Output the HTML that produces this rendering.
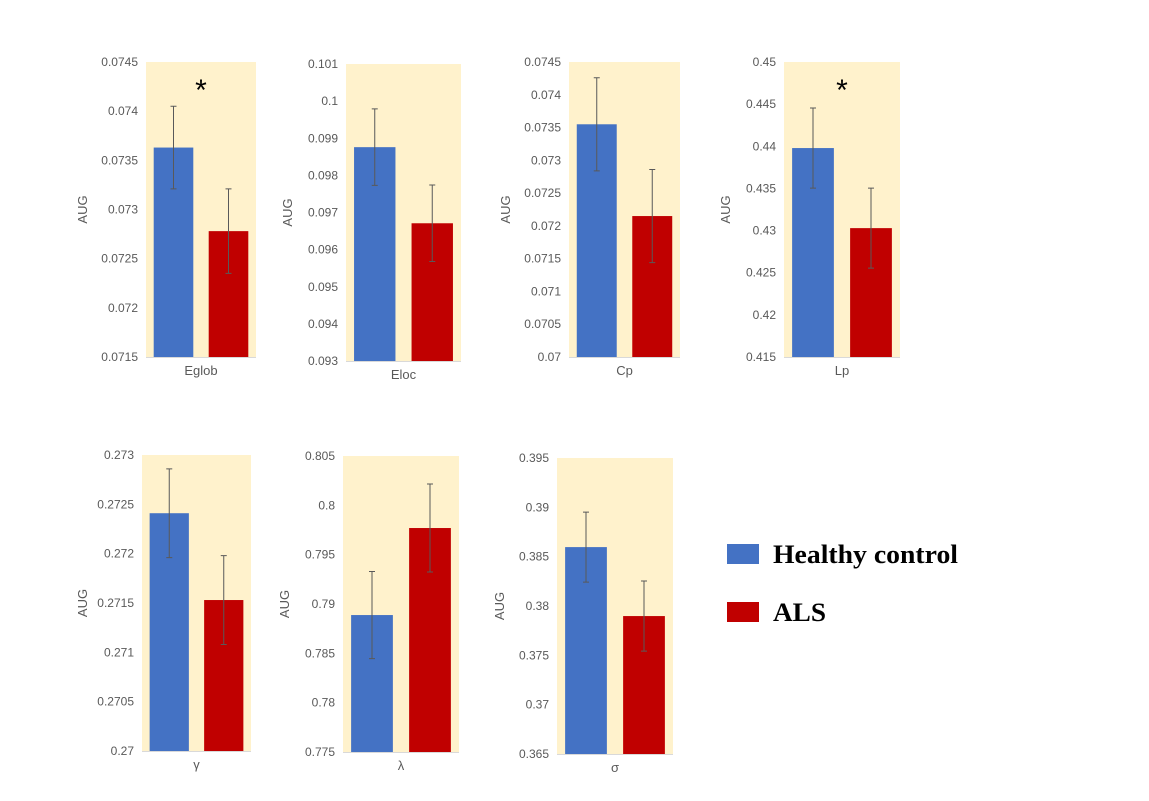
<!DOCTYPE html>
<html><head><meta charset="utf-8"><style>
body{margin:0;background:#fff;}
svg{display:block;font-family:"Liberation Sans","DejaVu Sans",sans-serif;}
</style></head><body>
<svg id="c" width="1149" height="801">
<g id="legend">
<rect x="727" y="544" width="32" height="20" fill="#4472C4"/>
<text x="773" y="563" font-family="Liberation Serif,serif" font-weight="bold" font-size="26" textLength="185" lengthAdjust="spacingAndGlyphs" fill="#000">Healthy control</text>
<rect x="727" y="602" width="32" height="20" fill="#C00000"/>
<text x="773" y="621" font-family="Liberation Serif,serif" font-weight="bold" font-size="26" textLength="53" lengthAdjust="spacingAndGlyphs" fill="#000">ALS</text>
</g>
</svg>
<script>
const metrics=["Eglob","Eloc","Cp","Lp","γ","λ","σ"];
const healthy=[0.07363,0.09876,0.07355,0.43979,0.27241,0.78888,0.38597];
const healthyErr=[0.00042,0.00103,0.00071,0.00475,0.00045,0.00441,0.00355];
const als=[0.07278,0.09671,0.07215,0.43029,0.27153,0.79770,0.37898];
const alsErr=[0.00043,0.00103,0.00071,0.00475,0.00045,0.00446,0.00355];
const yMax=[0.0745,0.101,0.0745,0.45,0.273,0.805,0.395];
const yMin=[0.0715,0.093,0.07,0.415,0.27,0.775,0.365];
const yStep=[0.0005,0.001,0.0005,0.005,0.0005,0.005,0.005];
const significant=[true,false,false,true,false,false,false];
const layout=[
 {x0:146,x1:256,y0:62,y1:357,ax:87},{x0:346,x1:461,y0:64,y1:361,ax:292},{x0:569,x1:680,y0:62,y1:357,ax:510},{x0:784,x1:900,y0:62,y1:357,ax:730},
 {x0:142,x1:251,y0:455,y1:751,ax:87},{x0:343,x1:459,y0:456,y1:752,ax:289},{x0:557,x1:673,y0:458,y1:754,ax:504}];
const NS="http://www.w3.org/2000/svg";
const svg=document.getElementById('c');
function mk(t,a,p){const e=document.createElementNS(NS,t);for(const k in a)e.setAttribute(k,a[k]);(p||svg).appendChild(e);return e;}
function fmt(v){return String(parseFloat(v.toFixed(6)));}
metrics.forEach((m,i)=>{
 const L=layout[i];
 const g=mk('g',{});
 
 
 const y=v=>L.y1-(v-yMin[i])/(yMax[i]-yMin[i])*(L.y1-L.y0);
 const bg=mk('rect',{x:L.x0,y:L.y0,width:L.x1-L.x0,height:L.y1-L.y0,fill:'#FFF2CC'},g);
 
 
 const n=Math.round((yMax[i]-yMin[i])/yStep[i]);
 for(let k=0;k<=n;k++){const v=yMin[i]+k*yStep[i];
  const t=mk('text',{x:L.x0-8,y:y(v)+4,'text-anchor':'end','font-size':12,fill:'#595959'},g);t.textContent=fmt(v);
  
  }
 const yl=mk('text',{transform:`translate(${L.ax},${(L.y0+L.y1)/2}) rotate(-90)`,'text-anchor':'middle','font-size':13,fill:'#595959'},g);
 yl.textContent='AUG';
 
 
 const w=L.x1-L.x0, bw=w*0.36;
 const bx=[L.x0+w*0.07,L.x0+w*0.57];
 [[healthy,healthyErr,'#4472C4'],[als,alsErr,'#C00000']].forEach(([d,e,c],j)=>{
  const top=y(d[i]);
  const b=mk('rect',{x:bx[j],y:top,width:bw,height:L.y1-top,fill:c},g);
  
  
  const cx=bx[j]+bw/2,hi=y(d[i]+e[i]),lo=y(d[i]-e[i]);
  const eb=mk('path',{d:`M${cx},${hi}V${lo}M${cx-3},${hi}H${cx+3}M${cx-3},${lo}H${cx+3}`,stroke:'#595959','stroke-width':1,fill:'none'},g);
  
  
 });
 const ax=mk('line',{x1:L.x0,x2:L.x1,y1:L.y1+0.5,y2:L.y1+0.5,stroke:'#d9d9d9'},g);
 
 
 const xl=mk('text',{x:(L.x0+L.x1)/2,y:L.y1+18,'text-anchor':'middle','font-size':13,fill:'#595959'},g);
 xl.textContent=m;
 
 
 if(significant[i]){const s=mk('text',{x:(L.x0+L.x1)/2,y:L.y0+38,'text-anchor':'middle','font-size':30,'font-weight':'300',fill:'#000'},g);s.textContent='*';
  
  }
});
</script>
</body></html>
